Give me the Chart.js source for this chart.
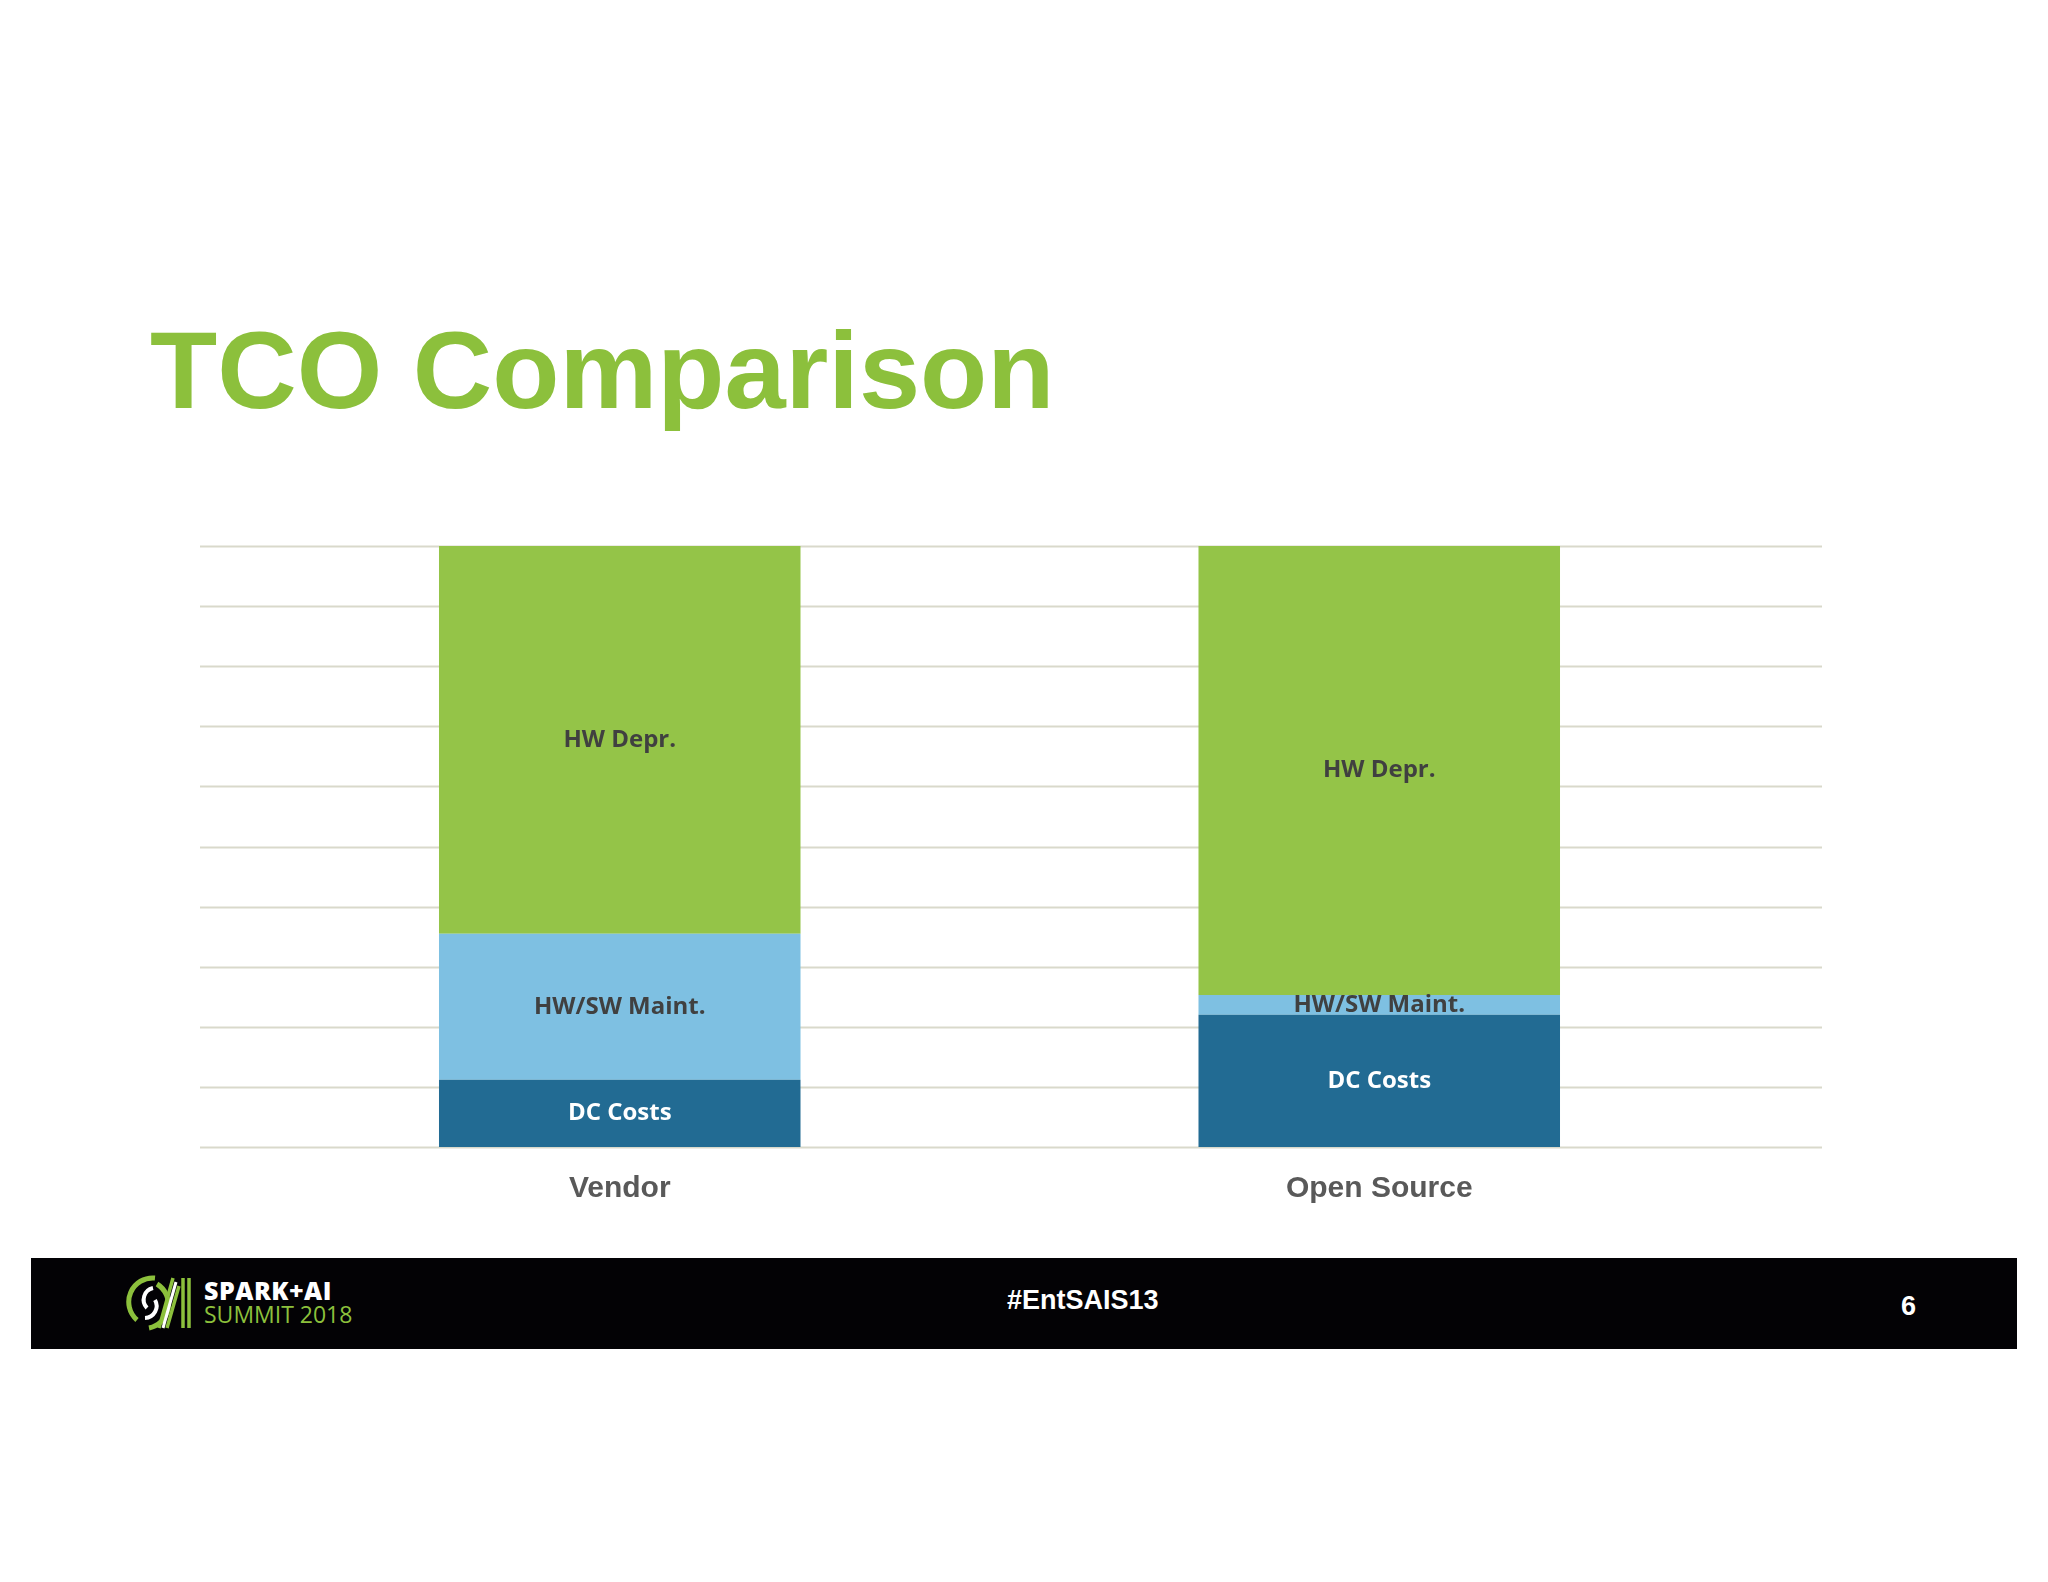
<!DOCTYPE html>
<html>
<head>
<meta charset="utf-8">
<script src="https://cdn.jsdelivr.net/npm/chart.js@4.4.1/dist/chart.umd.min.js"></script>
<style>
  html, body { margin: 0; padding: 0; background: #ffffff; }
  #page { position: relative; width: 2048px; height: 1582px; overflow: hidden; background: #ffffff; }
  #title {
    position: absolute; left: 150px; top: 306px;
    font-family: "Liberation Sans", Arial, sans-serif; font-weight: bold;
    font-size: 110px; line-height: 128px; color: #8cc03c; white-space: nowrap;
  }
  #footer { position: absolute; left: 31px; top: 1258px; width: 1986px; height: 91px; background: #030205; }
  .foot { position: absolute; color: #ffffff; font-family: "Liberation Sans", Arial, sans-serif; font-weight: bold; white-space: nowrap; }
  #tag { left: 976px; top: 27px; font-size: 27px; }
  #num { left: 1870px; top: 33px; font-size: 27px; }
  #brand1 { left: 173px; top: 15px; font-family: "Open Sans", sans-serif; font-weight: 800; font-size: 25px; letter-spacing: 0.5px; }
  #brand2 { left: 173px; top: 40px; font-family: "Open Sans", sans-serif; font-weight: 400; font-size: 23px; color: #8cc03c; }
  #logo { position: absolute; left: 94px; top: 14px; }
  canvas { position: absolute; left: 0; top: 0; }
</style>
</head>
<body>
<div id="page">
  <div id="title">TCO Comparison</div>
  <div id="footer">
    <svg id="logo" width="70" height="62" viewBox="0 0 70 62">
      <path d="M30 6 A24 24 0 0 0 12 48" fill="none" stroke="#8cc03c" stroke-width="5"/>
      <path d="M24 56 A24 24 0 0 0 32 12" fill="none" stroke="#8cc03c" stroke-width="5"/>
      <path d="M28 16 A12 12 0 0 0 22 36" fill="none" stroke="#ffffff" stroke-width="4"/>
      <path d="M20 46 A12 12 0 0 0 30 28" fill="none" stroke="#ffffff" stroke-width="4"/>
      <path d="M34 56 L48 6 M42 56 L54 14 M58 6 L58 56 M64 6 L64 56" stroke="#8cc03c" stroke-width="3.5"/>
      <path d="M38 56 L51 10" stroke="#ffffff" stroke-width="3"/>
    </svg>
    <div class="foot" id="brand1">SPARK+AI</div>
    <div class="foot" id="brand2">SUMMIT 2018</div>
    <div class="foot" id="tag">#EntSAIS13</div>
    <div class="foot" id="num">6</div>
  </div>
  <canvas id="chart" width="2048" height="1582"></canvas>
</div>
<script>
const categories = ['Vendor', 'Open Source'];
const dcCosts = [11.2, 22.0];
const hwSwMaint = [24.3, 3.3];
const hwDepr = [64.5, 74.7];
const seriesNames = ['DC Costs', 'HW/SW Maint.', 'HW Depr.'];
const yTicks = [0, 10, 20, 30, 40, 50, 60, 70, 80, 90, 100];

const seriesColors = ['#226b93', '#7ec0e2', '#94c448'];
const labelColors = ['#ffffff', '#404040', '#404040'];

// gridlines in the slide run wider than the category band
const wideGrid = {
  id: 'wideGrid',
  beforeDatasetsDraw(chart) {
    const ctx = chart.ctx;
    const y = chart.scales.y;
    ctx.save();
    ctx.strokeStyle = '#d9d9cb';
    ctx.lineWidth = 2;
    yTicks.forEach(v => {
      const py = Math.round(y.getPixelForValue(v)) + 0.5;
      ctx.beginPath();
      ctx.moveTo(200, py);
      ctx.lineTo(1822, py);
      ctx.stroke();
    });
    ctx.restore();
  }
};

const segmentLabels = {
  id: 'segmentLabels',
  afterDatasetsDraw(chart) {
    const ctx = chart.ctx;
    ctx.save();
    ctx.font = '700 24px "Open Sans", sans-serif';
    ctx.textAlign = 'center';
    ctx.textBaseline = 'middle';
    chart.data.datasets.forEach((ds, i) => {
      const meta = chart.getDatasetMeta(i);
      ctx.fillStyle = labelColors[i];
      meta.data.forEach(bar => {
        const p = bar.getProps(['x', 'y', 'base'], true);
        ctx.fillText(ds.label, p.x, (p.y + p.base) / 2);
      });
    });
    ctx.restore();
  }
};

const ctx = document.getElementById('chart').getContext('2d');
new Chart(ctx, {
  type: 'bar',
  data: {
    labels: categories,
    datasets: [dcCosts, hwSwMaint, hwDepr].map((vals, i) => ({
      label: seriesNames[i],
      data: vals,
      backgroundColor: seriesColors[i],
      borderWidth: 0,
      categoryPercentage: 1,
      barPercentage: 0.476
    }))
  },
  options: {
    responsive: false,
    devicePixelRatio: 1,
    animation: false,
    layout: { padding: { left: 240, right: 289, top: 546, bottom: 359 } },
    plugins: {
      legend: { display: false },
      tooltip: { enabled: false }
    },
    scales: {
      x: {
        stacked: true,
        grid: { display: false },
        border: { display: false },
        ticks: {
          padding: 16,
          color: '#595959',
          font: { family: '"Liberation Sans", Arial, sans-serif', size: 30, weight: 'bold' }
        }
      },
      y: {
        stacked: true,
        display: false,
        min: 0,
        max: 100,
        ticks: { stepSize: 10 }
      }
    }
  },
  plugins: [wideGrid, segmentLabels]
});
</script>
</body>
</html>
